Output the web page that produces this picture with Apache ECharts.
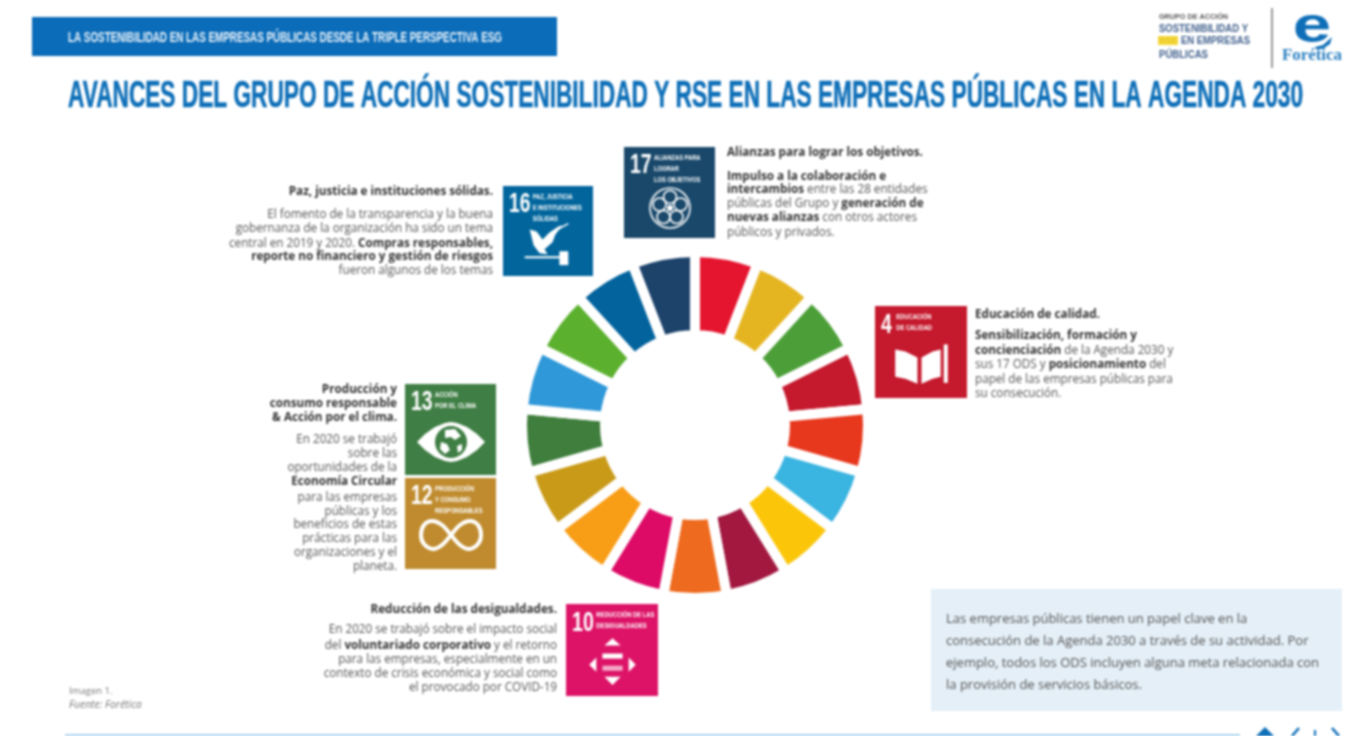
<!DOCTYPE html>
<html><head><meta charset="utf-8">
<style>html,body{margin:0;padding:0;background:#fff}#c{width:1367px;height:736px;filter:blur(0.9px)}</style>
<script src="https://cdn.jsdelivr.net/npm/echarts@6/dist/echarts.min.js"></script>
</head><body><div id="c"></div>
<script>
// ---- data ----
const goals = ['Fin de la pobreza','Hambre cero','Salud y bienestar','Educación de calidad','Igualdad de género','Agua limpia y saneamiento','Energía asequible y no contaminante','Trabajo decente y crecimiento económico','Industria, innovación e infraestructura','Reducción de las desigualdades','Ciudades y comunidades sostenibles','Producción y consumo responsables','Acción por el clima','Vida submarina','Vida de ecosistemas terrestres','Paz, justicia e instituciones sólidas','Alianzas para lograr los objetivos'];
const shares = [1,1,1,1,1,1,1,1,1,1,1,1,1,1,1,1,1];
const goalColors = ['#e5152f','#e5b521','#4c9f38','#c5192d','#e7381e','#3ab4e0','#fbc60a','#a2183f','#ee6a1e','#dd0a66','#f89d16','#c99a18','#3f7e3c','#2f98d8','#5bb02e','#02639d','#1d436b'];
const titleText = 'AVANCES DEL GRUPO DE ACCIÓN SOSTENIBILIDAD Y RSE EN LAS EMPRESAS PÚBLICAS EN LA AGENDA 2030';
const headerText = 'LA SOSTENIBILIDAD EN LAS EMPRESAS PÚBLICAS DESDE LA TRIPLE PERSPECTIVA ESG';
const text16 = ['El fomento de la transparencia y la buena','gobernanza de la organización ha sido un tema','central en 2019 y 2020. *Compras responsables,*','*reporte no financiero y gestión de riesgos*','fueron algunos de los temas'];
const text17 = ['*Impulso a la colaboración e*','*intercambios* entre las 28 entidades','públicas del Grupo y *generación de*','*nuevas alianzas* con otros actores','públicos y privados.'];
const text4 = ['*Sensibilización, formación y*','*concienciación* de la Agenda 2030 y','sus 17 ODS y *posicionamiento* del','papel de las empresas públicas para','su consecución.'];
const head13 = ['*Producción y*','*consumo responsable*','*& Acción por el clima.*'];
const text13 = ['En 2020 se trabajó','sobre las','oportunidades de la','*Economía Circular*','para las empresas','públicas y los','beneficios de estas','prácticas para las','organizaciones y el','planeta.'];
const text10 = ['En 2020 se trabajó sobre el impacto social','del *voluntariado corporativo* y el retorno','para las empresas, especialmente en un','contexto de crisis económica y social como','el provocado por COVID-19'];
const boxText = ['Las empresas públicas tienen un papel clave en la','consecución de la Agenda 2030 a través de su actividad. Por','ejemplo, todos los ODS incluyen alguna meta relacionada con','la provisión de servicios básicos.'];

// ---- helpers ----
const BODY='"Open Sans"', NARROW='"Liberation Sans"';
const els=[];
const mctx=document.createElement('canvas').getContext('2d');
function line(x,y,str,o={}){
  const parts=str.split('*'); let s='';
  parts.forEach((p,i)=>{ if(p) s+='{'+(i%2?'b':'r')+'|'+p+'}'; });
  els.push({type:'text',x,y:y+1.5,silent:true,style:{text:s,align:o.align||'left',verticalAlign:'middle',
    rich:{r:{fontFamily:BODY,fontSize:o.size||11.7,fill:o.color||'#555',fontStyle:o.italic?'italic':'normal'},
          b:{fontFamily:BODY,fontSize:o.size||11.7,fontWeight:'bold',fill:o.bcolor||'#333'}}}});
}
function lines(x,ys,arr,o){arr.forEach((l,i)=>line(x,ys[i],l,o));}
function txt(x,y,text,font,size,fill,o={}){
  const weight=o.weight||'bold';
  mctx.font=weight+' '+size+'px '+font;
  const sx=o.w?o.w/mctx.measureText(text).width:(o.sx||1);
  els.push({type:'text',x,y,scaleX:sx,silent:true,style:{text,fontFamily:font,fontSize:size,fontWeight:weight,fill,align:o.align||'left',verticalAlign:'middle',stroke:o.bold?fill:undefined,lineWidth:o.bold||0}});
}
function rect(x,y,w,h,fill){els.push({type:'rect',silent:true,shape:{x,y,width:w,height:h},style:{fill}});}
function icon(x,y,size,color,num,labels,draw){
  const ch=[{type:'rect',shape:{x:0,y:0,width:91,height:91},style:{fill:color}}];
  ch.push({type:'text',x:6,y:19,scaleX:.72,style:{text:num,fontFamily:NARROW,fontSize:27,fontWeight:'bold',fill:'#fff',verticalAlign:'middle'}});
  labels.forEach((l,i)=>ch.push({type:'text',x:num.length>1?30:21,y:11+i*11,scaleX:.82,style:{text:l,fontFamily:NARROW,fontSize:7,fontWeight:'bold',fill:'#fff',verticalAlign:'middle'}}));
  draw(ch);
  els.push({type:'group',x,y,scaleX:size/91,scaleY:size/91,silent:true,children:ch});
}
const W={fill:'#fff'};
function poly(points,fill){return {type:'polygon',shape:{points},style:{fill:fill||'#fff'}};}

// ---- header ----
rect(32,17,525,39,'#0b6cb9');
txt(68,38,headerText,NARROW,15,'#e9f2fa',{w:434});
txt(68,97,titleText,NARROW,36,'#0e6fb8',{w:1235,bold:0.6});

// logo
txt(1159,17,'GRUPO DE ACCIÓN',NARROW,6.5,'#555',{w:69});
txt(1159,29,'SOSTENIBILIDAD Y',NARROW,11,'#3f5f8c',{w:89});
rect(1158,36,20,9,'#f6d93a');
txt(1159,41,'RSE',NARROW,9,'#e8c82f',{w:18});
txt(1181,41,'EN EMPRESAS',NARROW,10.5,'#3f5f8c',{w:69});
txt(1159,55,'PÚBLICAS',NARROW,10.5,'#3f5f8c',{w:49});
els.push({type:'line',silent:true,shape:{x1:1272,y1:8,x2:1272,y2:68},style:{stroke:'#777',lineWidth:1.5}});
txt(1312,28,'e',NARROW,50,'#0e6fb8',{align:'center',sx:1.38});
els.push({type:'polygon',silent:true,shape:{points:[[1315,47],[1323,45],[1332,37],[1330,44],[1324,48],[1317,50]]},style:{fill:'#0e6fb8'}});
txt(1312,56,'Forética','"Liberation Serif"',17,'#2a7fc0',{align:'center',w:60});

// ---- icons ----
icon(503,186,90,'#02669d','16',['PAZ, JUSTICIA','E INSTITUCIONES','SÓLIDAS'],c=>{
  c.push(poly([[27,44],[34,46],[40,54],[47,47],[56,41],[60,40],[53,49],[50,57],[42,64],[45,69],[37,68],[31,60]]));
  c.push({type:'line',shape:{x1:55,y1:44,x2:66,y2:38},style:{stroke:'#fff',lineWidth:1.5}});
  c.push({type:'rect',shape:{x:22,y:71,width:36,height:2},style:W});
  c.push({type:'rect',shape:{x:57,y:66,width:9,height:14},style:W});
});
icon(624,147,91,'#19486a','17',['ALIANZAS PARA','LOGRAR','LOS OBJETIVOS'],c=>{
  const S={fill:'none',stroke:'#fff',lineWidth:1.6};
  c.push({type:'circle',shape:{cx:46,cy:61,r:20},style:S});
  [[46,50],[56.5,57.5],[52.5,70],[39.5,70],[35.5,57.5]].forEach(p=>c.push({type:'circle',shape:{cx:p[0],cy:p[1],r:6.5},style:S}));
  c.push({type:'circle',shape:{cx:46,cy:61,r:3},style:W});
});
icon(875,306,92,'#c5192d','4',['EDUCACIÓN','DE CALIDAD'],c=>{
  c.push(poly([[20,43],[30,45],[42,51],[42,77],[30,72],[20,70]]));
  c.push(poly([[46,51],[57,45],[65,43],[65,70],[57,72],[46,77]]));
  c.push({type:'rect',shape:{x:68,y:38,width:4,height:38},style:W});
});
icon(405,384,91,'#3f7e44','13',['ACCIÓN','POR EL CLIMA'],c=>{
  c.push(poly([[12,58],[20,50],[30,43],[40,39],[46,38],[52,39],[62,43],[72,50],[80,58],[72,66],[62,73],[52,77],[46,78],[40,77],[30,73],[20,66]]));
  c.push({type:'circle',shape:{cx:46,cy:58,r:16},style:{fill:'#3f7e44'}});
  c.push(poly([[40,46],[50,45],[56,52],[50,56],[46,53],[40,54]]));
  c.push(poly([[36,58],[42,60],[45,66],[40,70],[35,65]]));
  c.push(poly([[52,62],[57,60],[57,66],[53,69]]));
});
icon(405,478,91,'#bf8b2e','12',['PRODUCCIÓN','Y CONSUMO','RESPONSABLES'],c=>{
  c.push({type:'polygon',shape:{points:[[46,57],[37,47],[27,43],[19,47],[16,57],[19,66],[28,71],[37,67],[46,57],[55,47],[65,43],[73,47],[76,57],[73,66],[64,71],[55,67]],smooth:0.4},style:{fill:'none',stroke:'#fff',lineWidth:4}});
});
icon(566,604,92,'#dd1367','10',['REDUCCIÓN DE LAS','DESIGUALDADES'],c=>{
  c.push(poly([[46,34],[54,41],[38,41]]));
  c.push(poly([[46,80],[54,72],[38,72]]));
  c.push(poly([[23,60],[30,53],[30,67]]));
  c.push(poly([[69,60],[62,53],[62,67]]));
  c.push({type:'rect',shape:{x:36,y:49,width:20,height:5},style:W});
  c.push({type:'rect',shape:{x:36,y:61,width:20,height:5},style:{fill:'#f4a9c8'}});
});

// ---- text blocks ----
line(493,190,'*Paz, justicia e instituciones sólidas.*',{align:'right'});
lines(493,[213,227,242,255,269],text16,{align:'right'});
line(727,151,'*Alianzas para lograr los objetivos.*');
lines(727,[175,188,202,216,231],text17);
line(975,313,'*Educación de calidad.*');
lines(975,[334,349,363,378,392],text4);
lines(397,[388,402,416],head13,{align:'right'});
lines(397,[438,452,466,480,496,510,523,537,551,565],text13,{align:'right'});
line(557,608,'*Reducción de las desigualdades.*',{align:'right'});
lines(557,[628,644,658,672,686],text10,{align:'right'});
line(69,690,'Imagen 1.',{size:9.5,color:'#777'});
line(69,704,'Fuente: Forética',{size:10.4,color:'#777',italic:true});

// box
rect(931,589,411,122,'#e4eff7');
lines(946,[618,640,662,684],boxText,{size:13,color:'#555'});

// footer
rect(65,734,1175,2,'#a9d3ee');
els.push({type:'polygon',silent:true,shape:{points:[[1256,736],[1265,727],[1274,736]]},style:{fill:'#0e6fb8'}});
els.push({type:'polyline',silent:true,shape:{points:[[1299,728],[1292,736]]},style:{stroke:'#0e6fb8',lineWidth:2.5,fill:'none'}});
els.push({type:'polyline',silent:true,shape:{points:[[1332,728],[1339,736]]},style:{stroke:'#0e6fb8',lineWidth:2.5,fill:'none'}});
els.push({type:'rect',silent:true,shape:{x:1314,y:730,width:2,height:6},style:{fill:'#0e6fb8'}});

// ---- chart ----
const chart=echarts.init(document.getElementById('c'),null,{renderer:'canvas'});
chart.setOption({
  animation:false,
  backgroundColor:'#fff',
  series:[{type:'pie',center:[695,425],radius:[90,173],startAngle:90,clockwise:true,silent:true,
    label:{show:false},labelLine:{show:false},
    itemStyle:{borderColor:'#fff',borderWidth:10},
    data:goals.map((n,i)=>({name:n,value:shares[i],itemStyle:{color:goalColors[i]}}))}],
  graphic:{elements:els}
});
</script></body></html>
